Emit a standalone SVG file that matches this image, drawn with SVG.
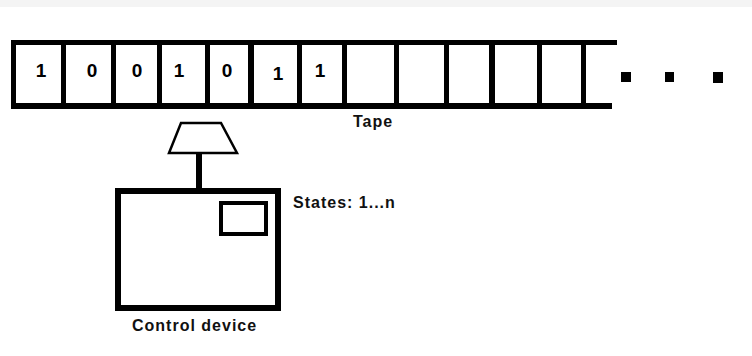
<svg xmlns="http://www.w3.org/2000/svg" width="752" height="356" viewBox="0 0 752 356">
  <style>
    .bar { fill: #000; }
    .digit { font-family: "Liberation Sans", Arial, sans-serif; font-weight: bold; font-size: 19px; fill: #000; text-anchor: middle; }
    .label { font-family: "Liberation Sans", Arial, sans-serif; font-weight: bold; font-size: 16px; fill: #111; letter-spacing: 1px; }
    .thick { fill: none; stroke: #000; stroke-width: 6; }
  </style>
  <rect x="0" y="0" width="752" height="356" fill="#fff"/>
  <rect x="0" y="0" width="752" height="7" fill="#f4f4f4"/>

  <g id="tape">
    <rect class="bar" x="11" y="40" width="606" height="5"/>
    <rect class="bar" x="11" y="103" width="601" height="6"/>
    <rect class="bar" x="11" y="40" width="5" height="69"/>
    <rect class="bar" x="61" y="40" width="5" height="69"/>
    <rect class="bar" x="111" y="40" width="5" height="69"/>
    <rect class="bar" x="157" y="40" width="5" height="69"/>
    <rect class="bar" x="205" y="40" width="5" height="69"/>
    <rect class="bar" x="248" y="40" width="6" height="69"/>
    <rect class="bar" x="297" y="40" width="5" height="69"/>
    <rect class="bar" x="342" y="40" width="5" height="69"/>
    <rect class="bar" x="394" y="40" width="5" height="69"/>
    <rect class="bar" x="444" y="40" width="5" height="69"/>
    <rect class="bar" x="489" y="40" width="6" height="69"/>
    <rect class="bar" x="537" y="40" width="5" height="69"/>
    <rect class="bar" x="581" y="40" width="5" height="69"/>
    <text class="digit" x="41" y="77">1</text>
    <text class="digit" x="92" y="77">0</text>
    <text class="digit" x="137" y="77">0</text>
    <text class="digit" x="179" y="77">1</text>
    <text class="digit" x="227" y="77">0</text>
    <text class="digit" x="278" y="80">1</text>
    <text class="digit" x="320" y="77">1</text>
    <rect class="bar" x="621" y="72" width="10" height="10"/>
    <rect class="bar" x="665" y="72" width="9" height="10"/>
    <rect class="bar" x="713" y="72" width="10" height="11"/>
    <text class="label" x="353" y="127">Tape</text>
  </g>

  <g id="head">
    <polygon points="181,123 221,123 237,153 169,153" fill="#fff" stroke="#000" stroke-width="2.5" stroke-linejoin="miter"/>
  </g>

  <g id="connectors">
    <rect class="bar" x="196" y="153" width="6" height="37"/>
  </g>

  <g id="control">
    <rect class="thick" x="118" y="191" width="160" height="117"/>
    <rect x="221" y="203" width="45" height="31" fill="none" stroke="#000" stroke-width="4"/>
    <text class="label" x="293" y="208">States: 1...n</text>
    <text class="label" x="132" y="331">Control device</text>
  </g>
</svg>
